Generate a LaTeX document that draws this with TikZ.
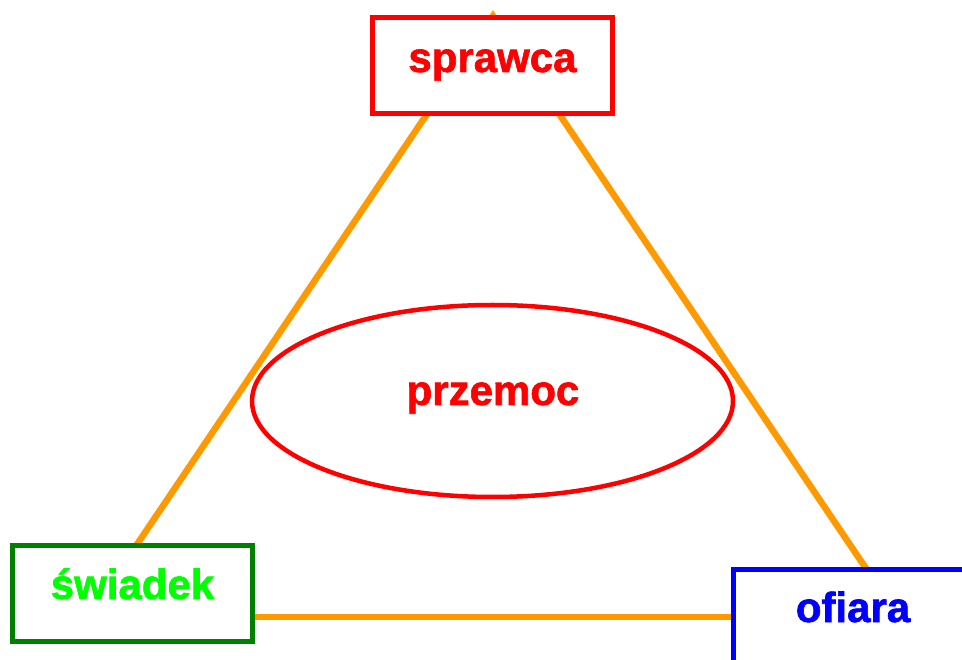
\documentclass[tikz,border=0pt]{standalone}
\usepackage{fontspec}
\setmainfont{Liberation Sans}[BoldFeatures={FakeBold=1.5}]
\usetikzlibrary{shapes.geometric}
\definecolor{orng}{HTML}{FF9900}
\definecolor{rd}{HTML}{FF0000}
\definecolor{dgreen}{HTML}{008000}
\definecolor{lgreen}{HTML}{00FF00}
\definecolor{bl}{HTML}{0000FF}
\tikzset{
  rolebox/.style={draw, line width=5pt, fill=white, minimum width=240pt, minimum height=96pt, inner sep=0pt},
  rolelabel/.style={anchor=base, inner sep=0pt, font=\fontsize{42}{50}\selectfont\bfseries},
  link/.style={draw=orng, line width=6.5pt, line join=miter}
}
\begin{document}
\begin{tikzpicture}[x=1pt,y=-1pt]
\useasboundingbox (0,0) rectangle (962,660);
\clip (0,0) rectangle (962,660);
\fill[white] (0,0) rectangle (962,660);
% connectors
\coordinate (apex) at (493,16);
\coordinate (lend) at (126.5,560);
\coordinate (rend) at (873.8,580);
\coordinate (bl) at (200,617);
\coordinate (br) at (853.5,617);
\draw[link] (lend) -- (apex) -- (rend);
\draw[link] (bl) -- (br);
% boxes
\node[rolebox, draw=rd] (spr) at (492.5,65.5) {};
\node[rolebox, draw=dgreen] (sw) at (132.5,593.5) {};
\node[rolebox, draw=bl] (of) at (853.5,617.5) {};
\node[draw=rd, line width=4.5pt, ellipse, minimum width=481pt, minimum height=192pt, inner sep=0pt] (prz) at (492.5,401) {};
% labels
\node[rolelabel, text=rd] (sprt) at (492.5,72) {sprawca};
\node[rolelabel, text=lgreen] (swt) at (132.5,599) {świadek};
\node[rolelabel, text=bl] (oft) at (853,622) {ofiara};
\node[rolelabel, text=rd] (przt) at (493,405) {przemoc};
\end{tikzpicture}
\end{document}
